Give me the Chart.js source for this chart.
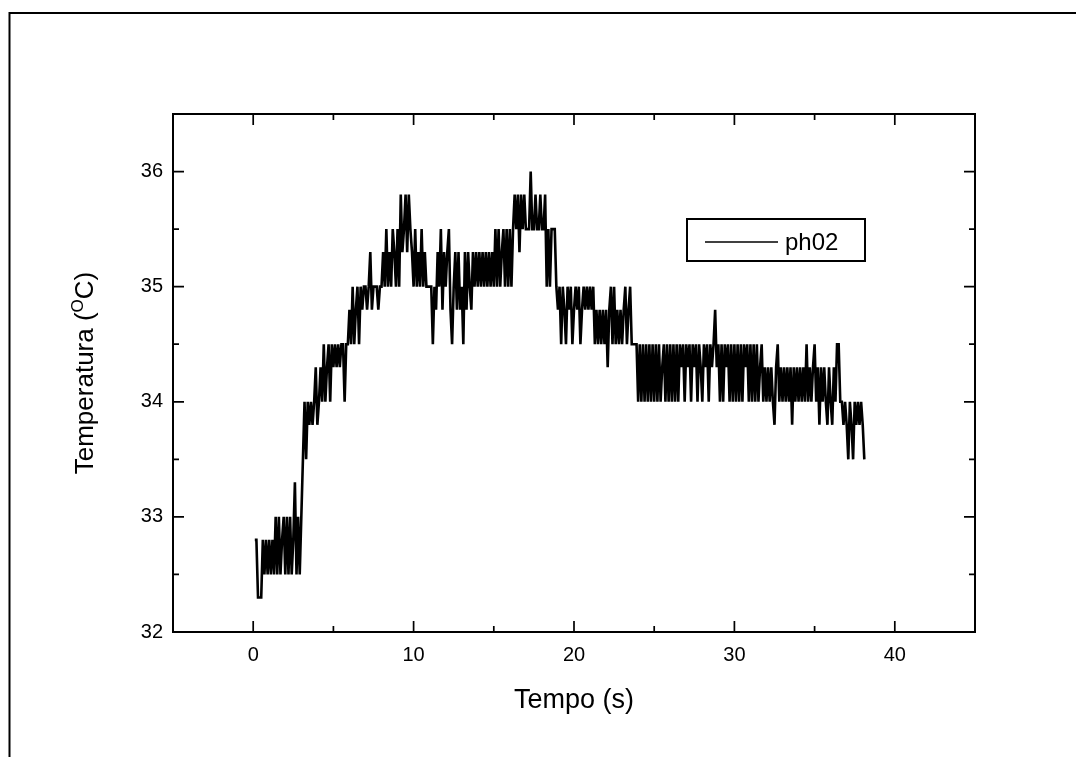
<!DOCTYPE html>
<html>
<head>
<meta charset="utf-8">
<script src="https://cdn.jsdelivr.net/npm/chart.js@4.4.0/dist/chart.umd.min.js"></script>
<style>
  html, body { margin: 0; padding: 0; background: #fff; }
</style>
</head>
<body>
<canvas id="tempChart" width="1076" height="757"></canvas>
<script>
// time axis (s), one row per second
const tempo = [
    0.1, 0.2, 0.3, 0.4, 0.5, 0.6, 0.7, 0.8, 0.9, 1.0,
    1.1, 1.2, 1.3, 1.4, 1.5, 1.6, 1.7, 1.8, 1.9, 2.0,
    2.1, 2.2, 2.3, 2.4, 2.5, 2.6, 2.7, 2.8, 2.9, 3.0,
    3.1, 3.2, 3.3, 3.4, 3.5, 3.6, 3.7, 3.8, 3.9, 4.0,
    4.1, 4.2, 4.3, 4.4, 4.5, 4.6, 4.7, 4.8, 4.9, 5.0,
    5.1, 5.2, 5.3, 5.4, 5.5, 5.6, 5.7, 5.8, 5.9, 6.0,
    6.1, 6.2, 6.3, 6.4, 6.5, 6.6, 6.7, 6.8, 6.9, 7.0,
    7.1, 7.2, 7.3, 7.4, 7.5, 7.6, 7.7, 7.8, 7.9, 8.0,
    8.1, 8.2, 8.3, 8.4, 8.5, 8.6, 8.7, 8.8, 8.9, 9.0,
    9.1, 9.2, 9.3, 9.4, 9.5, 9.6, 9.7, 9.8, 9.9, 10.0,
    10.1, 10.2, 10.3, 10.4, 10.5, 10.6, 10.7, 10.8, 10.9, 11.0,
    11.1, 11.2, 11.3, 11.4, 11.5, 11.6, 11.7, 11.8, 11.9, 12.0,
    12.1, 12.2, 12.3, 12.4, 12.5, 12.6, 12.7, 12.8, 12.9, 13.0,
    13.1, 13.2, 13.3, 13.4, 13.5, 13.6, 13.7, 13.8, 13.9, 14.0,
    14.1, 14.2, 14.3, 14.4, 14.5, 14.6, 14.7, 14.8, 14.9, 15.0,
    15.1, 15.2, 15.3, 15.4, 15.5, 15.6, 15.7, 15.8, 15.9, 16.0,
    16.1, 16.2, 16.3, 16.4, 16.5, 16.6, 16.7, 16.8, 16.9, 17.0,
    17.1, 17.2, 17.3, 17.4, 17.5, 17.6, 17.7, 17.8, 17.9, 18.0,
    18.1, 18.2, 18.3, 18.4, 18.5, 18.6, 18.7, 18.8, 18.9, 19.0,
    19.1, 19.2, 19.3, 19.4, 19.5, 19.6, 19.7, 19.8, 19.9, 20.0,
    20.1, 20.2, 20.3, 20.4, 20.5, 20.6, 20.7, 20.8, 20.9, 21.0,
    21.1, 21.2, 21.3, 21.4, 21.5, 21.6, 21.7, 21.8, 21.9, 22.0,
    22.1, 22.2, 22.3, 22.4, 22.5, 22.6, 22.7, 22.8, 22.9, 23.0,
    23.1, 23.2, 23.3, 23.4, 23.5, 23.6, 23.7, 23.8, 23.9, 24.0,
    24.1, 24.2, 24.3, 24.4, 24.5, 24.6, 24.7, 24.8, 24.9, 25.0,
    25.1, 25.2, 25.3, 25.4, 25.5, 25.6, 25.7, 25.8, 25.9, 26.0,
    26.1, 26.2, 26.3, 26.4, 26.5, 26.6, 26.7, 26.8, 26.9, 27.0,
    27.1, 27.2, 27.3, 27.4, 27.5, 27.6, 27.7, 27.8, 27.9, 28.0,
    28.1, 28.2, 28.3, 28.4, 28.5, 28.6, 28.7, 28.8, 28.9, 29.0,
    29.1, 29.2, 29.3, 29.4, 29.5, 29.6, 29.7, 29.8, 29.9, 30.0,
    30.1, 30.2, 30.3, 30.4, 30.5, 30.6, 30.7, 30.8, 30.9, 31.0,
    31.1, 31.2, 31.3, 31.4, 31.5, 31.6, 31.7, 31.8, 31.9, 32.0,
    32.1, 32.2, 32.3, 32.4, 32.5, 32.6, 32.7, 32.8, 32.9, 33.0,
    33.1, 33.2, 33.3, 33.4, 33.5, 33.6, 33.7, 33.8, 33.9, 34.0,
    34.1, 34.2, 34.3, 34.4, 34.5, 34.6, 34.7, 34.8, 34.9, 35.0,
    35.1, 35.2, 35.3, 35.4, 35.5, 35.6, 35.7, 35.8, 35.9, 36.0,
    36.1, 36.2, 36.3, 36.4, 36.5, 36.6, 36.7, 36.8, 36.9, 37.0,
    37.1, 37.2, 37.3, 37.4, 37.5, 37.6, 37.7, 37.8, 37.9, 38.0,
    38.1
];

// temperature (C), series ph02
const temperatura = [
    32.8, 32.8, 32.3, 32.3, 32.3, 32.8, 32.5, 32.8, 32.5, 32.8,
    32.5, 32.8, 32.5, 33.0, 32.5, 33.0, 32.5, 32.8, 33.0, 32.5,
    33.0, 32.5, 33.0, 32.5, 32.8, 33.3, 32.5, 33.0, 32.5, 33.0,
    33.5, 34.0, 33.5, 34.0, 33.8, 34.0, 33.8, 34.0, 34.3, 33.8,
    34.0, 34.3, 34.0, 34.5, 34.0, 34.3, 34.5, 34.0, 34.5, 34.3,
    34.5, 34.3, 34.5, 34.3, 34.5, 34.5, 34.0, 34.5, 34.5, 34.8,
    34.5, 35.0, 34.5, 34.8, 35.0, 34.5, 35.0, 34.8, 35.0, 35.0,
    34.8, 35.0, 35.3, 34.8, 35.0, 35.0, 35.0, 34.8, 35.0, 35.0,
    35.3, 35.0, 35.5, 35.0, 35.3, 35.0, 35.5, 35.3, 35.0, 35.5,
    35.0, 35.8, 35.3, 35.5, 35.8, 35.3, 35.8, 35.5, 35.3, 35.0,
    35.5, 35.0, 35.3, 35.0, 35.5, 35.0, 35.3, 35.0, 35.0, 35.0,
    35.0, 34.5, 35.0, 34.8, 35.3, 35.0, 35.5, 34.8, 35.3, 35.0,
    35.3, 35.5, 34.8, 34.5, 35.0, 35.3, 34.8, 35.3, 34.8, 35.0,
    34.5, 35.3, 34.8, 35.3, 35.0, 34.8, 35.3, 35.0, 35.3, 35.0,
    35.3, 35.0, 35.3, 35.0, 35.3, 35.0, 35.3, 35.0, 35.3, 35.0,
    35.5, 35.0, 35.5, 35.0, 35.3, 35.5, 35.0, 35.5, 35.0, 35.5,
    35.0, 35.5, 35.8, 35.5, 35.8, 35.3, 35.8, 35.5, 35.8, 35.5,
    35.5, 35.5, 36.0, 35.5, 35.5, 35.8, 35.5, 35.5, 35.8, 35.5,
    35.5, 35.8, 35.0, 35.5, 35.0, 35.5, 35.5, 35.5, 35.0, 34.8,
    35.0, 34.5, 35.0, 34.8, 34.5, 35.0, 34.8, 35.0, 34.5, 34.8,
    35.0, 34.8, 35.0, 34.5, 34.8, 35.0, 34.8, 35.0, 34.8, 35.0,
    34.8, 35.0, 34.5, 34.8, 34.5, 34.8, 34.5, 34.8, 34.5, 34.8,
    34.3, 34.8, 35.0, 34.5, 35.0, 34.5, 34.8, 34.5, 34.8, 34.5,
    34.8, 35.0, 34.5, 34.8, 35.0, 34.5, 34.5, 34.5, 34.5, 34.0,
    34.5, 34.0, 34.5, 34.0, 34.5, 34.0, 34.5, 34.0, 34.5, 34.0,
    34.5, 34.0, 34.5, 34.0, 34.3, 34.5, 34.0, 34.5, 34.0, 34.5,
    34.0, 34.5, 34.0, 34.5, 34.0, 34.5, 34.3, 34.5, 34.0, 34.5,
    34.3, 34.5, 34.0, 34.5, 34.3, 34.5, 34.0, 34.5, 34.3, 34.0,
    34.5, 34.3, 34.5, 34.0, 34.5, 34.3, 34.5, 34.8, 34.3, 34.5,
    34.0, 34.5, 34.0, 34.5, 34.3, 34.5, 34.0, 34.5, 34.0, 34.5,
    34.0, 34.5, 34.0, 34.5, 34.0, 34.5, 34.3, 34.5, 34.0, 34.5,
    34.0, 34.5, 34.0, 34.5, 34.0, 34.3, 34.5, 34.0, 34.3, 34.0,
    34.3, 34.0, 34.3, 34.0, 33.8, 34.3, 34.5, 34.0, 34.3, 34.0,
    34.3, 34.0, 34.3, 34.0, 34.3, 33.8, 34.3, 34.0, 34.3, 34.0,
    34.3, 34.0, 34.3, 34.0, 34.5, 34.0, 34.3, 34.0, 34.3, 34.5,
    34.0, 34.3, 33.8, 34.3, 34.0, 34.3, 34.0, 33.8, 34.3, 34.0,
    33.8, 34.3, 34.0, 34.5, 34.5, 34.0, 34.0, 33.8, 34.0, 33.8,
    33.5, 34.0, 33.8, 33.5, 34.0, 33.8, 34.0, 33.8, 34.0, 33.8,
    33.5
];

const xTicks = [0, 10, 20, 30, 40];
const xMinor = [5, 15, 25, 35];
const yTicks = [32, 33, 34, 35, 36];
const yMinor = [32.5, 33.5, 34.5, 35.5];
const seriesName = 'ph02';
const xTitle = 'Tempo (s)';
const yTitle = ['Temperatura (', 'O', 'C)'];

const fam = 'Arial, "Liberation Sans", sans-serif';

// box around plot, inward ticks on all sides, outer page frame
const framePlugin = {
    id: 'frame',
    afterDraw(chart) {
        const ctx = chart.ctx;
        const a = chart.chartArea;
        const xs = chart.scales.x, ys = chart.scales.y;
        ctx.save();
        ctx.strokeStyle = '#000';
        ctx.lineWidth = 2;
        ctx.beginPath();
        ctx.moveTo(9.5, 800);
        ctx.lineTo(9.5, 13);
        ctx.lineTo(1100, 13);
        ctx.stroke();

        ctx.strokeRect(a.left, a.top, a.right - a.left, a.bottom - a.top);

        ctx.lineWidth = 1.7;
        ctx.beginPath();
        const xt = (v, len) => {
            const p = xs.getPixelForValue(v);
            ctx.moveTo(p, a.bottom); ctx.lineTo(p, a.bottom - len);
            ctx.moveTo(p, a.top); ctx.lineTo(p, a.top + len);
        };
        const yt = (v, len) => {
            const p = ys.getPixelForValue(v);
            ctx.moveTo(a.left, p); ctx.lineTo(a.left + len, p);
            ctx.moveTo(a.right, p); ctx.lineTo(a.right - len, p);
        };
        xTicks.forEach(v => xt(v, 11));
        xMinor.forEach(v => xt(v, 6));
        yTicks.forEach(v => yt(v, 11));
        yMinor.forEach(v => yt(v, 6));
        ctx.stroke();
        ctx.restore();
    }
};

// axis titles and the boxed legend
const labelPlugin = {
    id: 'labels',
    afterDraw(chart) {
        const ctx = chart.ctx;
        const a = chart.chartArea;
        ctx.save();
        ctx.fillStyle = '#000';
        ctx.strokeStyle = '#000';

        ctx.font = '27px ' + fam;
        ctx.textAlign = 'center';
        ctx.textBaseline = 'alphabetic';
        ctx.fillText(xTitle, (a.left + a.right) / 2, 708);

        // legend
        ctx.lineWidth = 2;
        ctx.strokeRect(687, 219, 178, 42);
        ctx.lineWidth = 1.7;
        ctx.beginPath();
        ctx.moveTo(705, 242); ctx.lineTo(778, 242);
        ctx.stroke();
        ctx.font = '24px ' + fam;
        ctx.textAlign = 'left';
        ctx.fillText(seriesName, 785, 250);

        // y title with superscript O
        ctx.translate(93, (a.top + a.bottom) / 2);
        ctx.rotate(-Math.PI / 2);
        const big = '26px ' + fam, small = '17px ' + fam;
        ctx.font = big;
        const w1 = ctx.measureText(yTitle[0]).width;
        const w3 = ctx.measureText(yTitle[2]).width;
        ctx.font = small;
        const w2 = ctx.measureText(yTitle[1]).width;
        let x = -(w1 + w2 + w3) / 2;
        ctx.font = big; ctx.fillText(yTitle[0], x, 0); x += w1;
        ctx.font = small; ctx.fillText(yTitle[1], x, -10); x += w2;
        ctx.font = big; ctx.fillText(yTitle[2], x, 0);
        ctx.restore();
    }
};

new Chart(document.getElementById('tempChart').getContext('2d'), {
    type: 'line',
    data: {
        datasets: [{
            label: seriesName,
            data: tempo.map((t, i) => ({ x: t, y: temperatura[i] })),
            borderColor: '#000',
            borderWidth: 2.6,
            pointRadius: 0,
            tension: 0,
            fill: false
        }]
    },
    options: {
        responsive: false,
        animation: false,
        layout: { padding: { left: 0, top: 114, right: 101, bottom: 0 } },
        plugins: {
            legend: { display: false },
            tooltip: { enabled: false }
        },
        scales: {
            x: {
                type: 'linear',
                min: -5,
                max: 45,
                afterBuildTicks: s => { s.ticks = xTicks.map(v => ({ value: v })); },
                afterFit: s => { s.height = 125; },
                grid: { display: false, drawTicks: false },
                border: { display: false },
                ticks: { color: '#000', padding: 11, font: { family: fam, size: 20 } }
            },
            y: {
                type: 'linear',
                min: 32,
                max: 36.5,
                afterBuildTicks: s => { s.ticks = yTicks.map(v => ({ value: v })); },
                afterFit: s => { s.width = 173; },
                grid: { display: false, drawTicks: false },
                border: { display: false },
                ticks: { color: '#000', padding: 10, font: { family: fam, size: 20 } }
            }
        }
    },
    plugins: [framePlugin, labelPlugin]
});
</script>
</body>
</html>
